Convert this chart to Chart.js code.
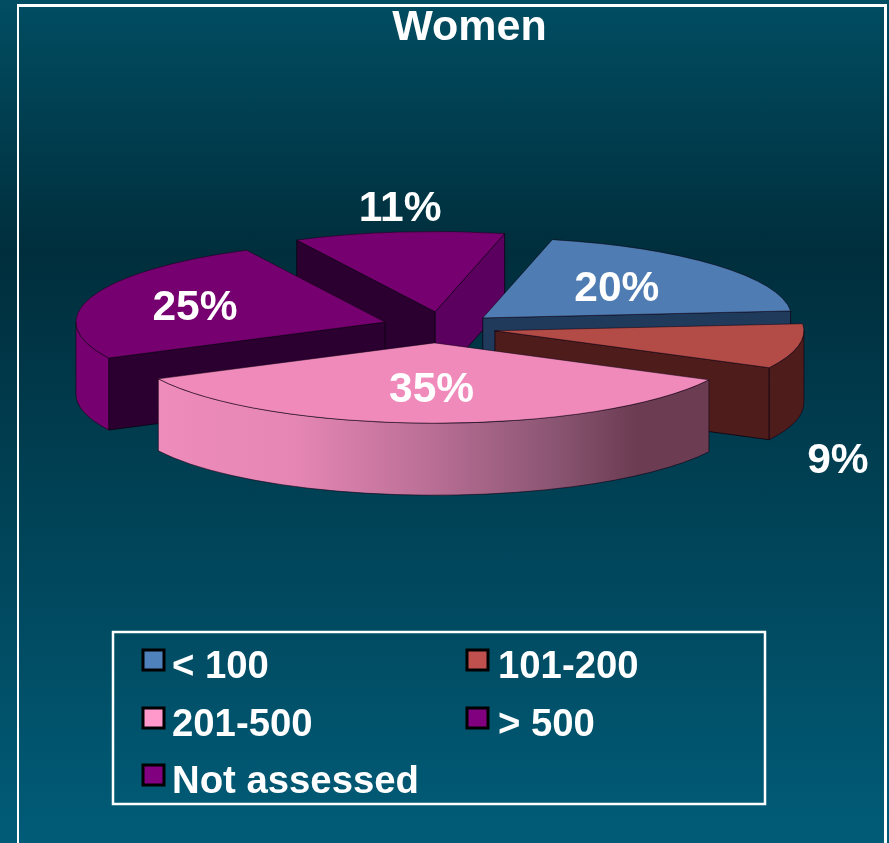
<!DOCTYPE html>
<html>
<head>
<meta charset="utf-8">
<script src="https://cdn.jsdelivr.net/npm/chart.js@4/dist/chart.umd.min.js"></script>
<style>
html,body{margin:0;padding:0;width:889px;height:843px;overflow:hidden}
body{position:relative;background:linear-gradient(180deg,#014d62 0%,#002e3c 30%,#015c78 100%)}
#frame{position:absolute;left:17px;top:4px;width:865px;height:839px;border:solid #fff;border-width:3px 3px 0 2.5px;box-sizing:content-box}
canvas{position:absolute;left:0;top:0}
</style>
</head>
<body>
<div id="frame"></div>
<canvas id="c" width="889" height="843"></canvas>
<script>
const title = 'Women';
const categories = ['< 100', '101-200', '201-500', '> 500', 'Not assessed'];
const shares = [20, 9, 35, 25, 11];
const topColors = ['#4f7db3', '#b34c46', '#ef8abb', '#76006f', '#76006f'];
const legendColors = ['#4f81bd', '#c0504d', '#ff99cc', '#800080', '#800080'];
const startFaceColors = ['#1f3a5a', '#4e1d1b', '#6b3c52', '#2b0030', '#2b0030'];
const endFaceColors = ['#1f3a5a', '#4e1d1b', '#6b3c52', '#2b0030', '#5c0060'];
const wallColors = ['#1f3a5a', '#4e1d1b', null, '#76006f', '#76006f'];

// presentation constants
const TILT = 0.26, DEPTH = 72, EXPLODE = 58, RADIUS = 309;
const paintOrder = [4, 0, 3, 1, 2];
const sliceNudge = [[1, 0], [0, 0], [-3, 0], [2, -1], [4, -1]];
const labelShift = [[134, -29], [343, 131], [-3, 47], [-190, -14], [-35, -103]];
const FONT = '"Liberation Sans", Arial, sans-serif';

function centre(el, i) {
  const mid = (el.startAngle + el.endAngle) / 2;
  const dx = Math.cos(mid) * EXPLODE + sliceNudge[i][0];
  const dy = Math.sin(mid) * EXPLODE * TILT + sliceNudge[i][1];
  return {dx, dy, cx: el.x + dx, cy: el.y + dy};
}
function face(ctx, c, ang, ry, R, fill) {
  const ex = c.cx + Math.cos(ang) * R, ey = c.cy + Math.sin(ang) * ry;
  ctx.beginPath();
  ctx.moveTo(c.cx, c.cy); ctx.lineTo(ex, ey);
  ctx.lineTo(ex, ey + DEPTH); ctx.lineTo(c.cx, c.cy + DEPTH);
  ctx.closePath();
  ctx.fillStyle = fill; ctx.fill();
  ctx.strokeStyle = 'rgba(10,0,15,.75)'; ctx.lineWidth = 1; ctx.stroke();
}
function paintSlice(ctx, el, i) {
  const c = centre(el, i), R = el.outerRadius, ry = R * TILT;
  const a0 = el.startAngle, a1 = el.endAngle;
  if (Math.sin(a0 - Math.PI / 2) > 0) face(ctx, c, a0, ry, R, startFaceColors[i]);
  if (Math.sin(a1 + Math.PI / 2) > 0) face(ctx, c, a1, ry, R, endFaceColors[i]);
  const lo = Math.max(a0, 0), hi = Math.min(a1, Math.PI);
  if (lo < hi) {
    ctx.beginPath();
    ctx.ellipse(c.cx, c.cy, R, ry, 0, lo, hi, false);
    ctx.ellipse(c.cx, c.cy + DEPTH, R, ry, 0, hi, lo, true);
    ctx.closePath();
    let fill = wallColors[i];
    if (!fill) {
      const xl = c.cx + R * Math.cos(hi), xr = c.cx + R * Math.cos(lo);
      fill = ctx.createLinearGradient(xl, 0, xr, 0);
      fill.addColorStop(0, '#ee8cbb');
      fill.addColorStop(0.25, '#e586b4');
      fill.addColorStop(0.5, '#b96e95');
      fill.addColorStop(0.72, '#8a5572');
      fill.addColorStop(0.87, '#6b3c52');
      fill.addColorStop(1, '#6b3c52');
    }
    ctx.fillStyle = fill; ctx.fill();
    ctx.strokeStyle = 'rgba(20,0,20,.6)'; ctx.lineWidth = 1; ctx.stroke();
  }
  ctx.save();
  ctx.translate(c.dx, el.y + c.dy);
  ctx.scale(1, TILT);
  ctx.translate(0, -el.y);
  el.draw(ctx);
  ctx.restore();
}
const pie3d = {
  id: 'pie3d',
  afterLayout(chart) {
    chart.titleBlock.left += 31.5;
    chart.titleBlock.right += 31.5;
  },
  beforeDatasetDraw(chart, args) {
    const ctx = chart.ctx, arcs = args.meta.data;
    paintOrder.forEach(i => paintSlice(ctx, arcs[i], i));
    return false;
  },
  afterDatasetsDraw(chart) {
    const ctx = chart.ctx, arcs = chart.getDatasetMeta(0).data;
    ctx.save();
    ctx.fillStyle = '#fff';
    ctx.font = 'bold 42.5px ' + FONT;
    ctx.textAlign = 'center';
    ctx.textBaseline = 'middle';
    arcs.forEach((el, i) => {
      const c = centre(el, i);
      ctx.fillText(shares[i] + '%', c.cx + labelShift[i][0], c.cy + labelShift[i][1]);
    });
    ctx.restore();
  },
  afterDraw(chart) {
    const ctx = chart.ctx;
    const box = {x: 113, y: 632, w: 652, h: 172};
    const cols = [143, 467], rows = [660, 718, 775];
    ctx.save();
    ctx.strokeStyle = '#fff'; ctx.lineWidth = 2.5;
    ctx.strokeRect(box.x, box.y, box.w, box.h);
    ctx.font = 'bold 38.3px ' + FONT;
    ctx.textBaseline = 'middle'; ctx.textAlign = 'left';
    categories.forEach((name, i) => {
      const x = cols[i % 2], y = rows[Math.floor(i / 2)];
      ctx.fillStyle = legendColors[i];
      ctx.fillRect(x, y - 10, 21, 20);
      ctx.strokeStyle = '#000'; ctx.lineWidth = 3;
      ctx.strokeRect(x, y - 10, 21, 20);
      ctx.fillStyle = '#fff';
      ctx.fillText(name, x + (i % 2 ? 31 : 29), y + 7);
    });
    ctx.restore();
  }
};
new Chart(document.getElementById('c'), {
  type: 'pie',
  data: {
    labels: categories,
    datasets: [{
      data: shares,
      backgroundColor: topColors,
      borderColor: 'rgba(15,0,20,.8)',
      borderWidth: 1,
      radius: RADIUS
    }]
  },
  options: {
    responsive: false,
    animation: false,
    rotation: 13,
    layout: {padding: {left: 0, right: 13, top: 0, bottom: 241}},
    plugins: {
      legend: {display: false},
      tooltip: {enabled: false},
      title: {
        display: true,
        text: title,
        color: '#fff',
        font: {family: FONT, size: 43, weight: 'bold'},
        padding: {top: 2, bottom: 0}
      }
    }
  },
  plugins: [pie3d]
});
</script>
</body>
</html>
